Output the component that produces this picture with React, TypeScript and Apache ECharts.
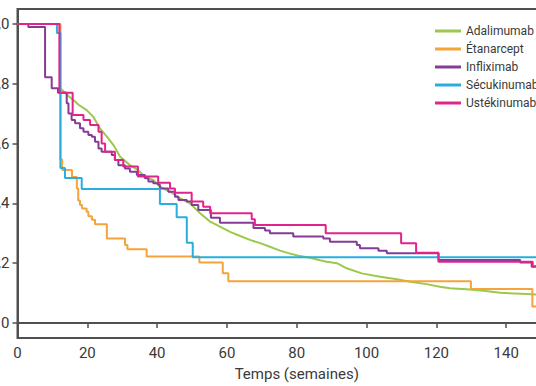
import React, { useEffect, useRef } from "react";
import * as echarts from "echarts";

const seriesNames = ["Adalimumab", "Étanarcept", "Infliximab", "Sécukinumab", "Ustékinumab"];
const seriesColors = ["#9cc94b", "#f5a33b", "#843c97", "#29aee0", "#e2238b"];

const yTickValues = [0, 0.2, 0.4, 0.6, 0.8, 1.0];
const yTickLabels = ["0", "0,2", "0,4", "0,6", "0,8", "1,0"];

// Adalimumab has many small events: drawn as a fine polyline through read points
const adalimumabT = [0, 12.2, 12.2, 13.5, 14.5, 16, 17.5, 19.8, 21.7, 23.6, 25.6, 27.5, 29.4, 32.2, 34.2, 36.5, 38.9, 40.8, 43.7, 46.6, 49.4, 52.3, 55.2, 58, 60.9, 63.8, 66.6, 69.5, 72.3, 75.2, 78.1, 80.5, 83.8, 86.7, 88.6, 91.5, 94.3, 98.6, 103.9, 108.7, 112.5, 117.2, 121, 123.9, 128.7, 133.5, 138.3, 145.9, 150];
const adalimumabS = [1, 1, 0.785, 0.772, 0.76, 0.746, 0.73, 0.712, 0.69, 0.651, 0.623, 0.595, 0.556, 0.528, 0.514, 0.49, 0.478, 0.456, 0.439, 0.417, 0.4, 0.367, 0.339, 0.322, 0.305, 0.291, 0.278, 0.267, 0.255, 0.242, 0.232, 0.225, 0.218, 0.21, 0.205, 0.2, 0.183, 0.166, 0.155, 0.146, 0.138, 0.13, 0.121, 0.116, 0.113, 0.108, 0.101, 0.097, 0.094];

const etanarceptT = [0, 12.3, 12.8, 15.6, 17.0, 17.4, 17.9, 18.5, 19.8, 20.3, 21.3, 22.2, 25.6, 30.8, 31.5, 37, 52.1, 58.8, 60.4, 129.9, 147.5, 150];
const etanarceptS = [1, 0.547, 0.512, 0.488, 0.45, 0.41, 0.395, 0.383, 0.372, 0.357, 0.345, 0.33, 0.283, 0.261, 0.247, 0.222, 0.202, 0.166, 0.14, 0.114, 0.055, 0.055];

const infliximabT = [0, 3.1, 7.9, 9.8, 11.6, 14.1, 14.6, 15.5, 16.5, 17.9, 18.9, 20.3, 21.3, 22.2, 23.2, 24.1, 27, 27.9, 28.9, 30.8, 32.2, 34.2, 36.5, 37.5, 38.9, 40.3, 40.8, 43.2, 45.1, 46.1, 48.5, 49.9, 51.8, 55.4, 58, 67.6, 70.9, 72.3, 79, 87.6, 89.5, 97.2, 98.1, 103.4, 105.8, 120.6, 144, 147.3, 150];
const infliximabS = [1, 0.99, 0.822, 0.785, 0.77, 0.735, 0.701, 0.679, 0.668, 0.651, 0.64, 0.629, 0.623, 0.606, 0.584, 0.573, 0.562, 0.545, 0.528, 0.517, 0.506, 0.495, 0.484, 0.473, 0.467, 0.462, 0.45, 0.439, 0.422, 0.411, 0.406, 0.395, 0.378, 0.352, 0.335, 0.318, 0.309, 0.3, 0.289, 0.283, 0.272, 0.261, 0.25, 0.242, 0.233, 0.211, 0.202, 0.188, 0.188];

const secukinumabT = [0, 11.3, 12.3, 13.6, 18.4, 40.8, 45.6, 48.5, 50.2, 150];
const secukinumabS = [1, 0.97, 0.518, 0.485, 0.448, 0.398, 0.354, 0.268, 0.22, 0.22];

const ustekinumabT = [0, 12.0, 15.8, 18.9, 20.8, 23.2, 24.1, 25.1, 27.9, 30.3, 34.5, 40.3, 43.7, 45.1, 49.9, 53.2, 55.2, 67.1, 68, 88.3, 109.9, 114.2, 120.6, 147.6, 150];
const ustekinumabS = [1, 0.77, 0.696, 0.679, 0.662, 0.64, 0.6, 0.573, 0.545, 0.523, 0.49, 0.469, 0.45, 0.436, 0.406, 0.389, 0.367, 0.347, 0.328, 0.3, 0.267, 0.235, 0.205, 0.19, 0.19];

const allT = [adalimumabT, etanarceptT, infliximabT, secukinumabT, ustekinumabT];
const allS = [adalimumabS, etanarceptS, infliximabS, secukinumabS, ustekinumabS];
const stepped = [false, true, true, true, true];

const FONT = "Roboto, 'DejaVu Sans', sans-serif";
const AXIS = "#505050";
const TEXT = "#3a3a3a";

export default function App() {
  const ref = useRef<HTMLDivElement>(null);
  useEffect(() => {
    if (!ref.current) return;
    const chart = echarts.init(ref.current, undefined, { renderer: "svg" });
    chart.setOption({
      animation: false,
      backgroundColor: "#ffffff",
      textStyle: { fontFamily: FONT },
      grid: {
        left: 17.5,
        right: -40,
        top: 9,
        bottom: 48,
        containLabel: false,
        outerBoundsMode: "none",
        show: true,
        borderColor: AXIS,
        borderWidth: 2,
      },
      legend: {
        orient: "vertical",
        left: 430,
        top: 20,
        itemWidth: 26,
        itemHeight: 3,
        itemGap: 6,
        icon: "rect",
        data: seriesNames,
        textStyle: { fontFamily: FONT, fontSize: 12, color: TEXT },
      },
      xAxis: {
        type: "value",
        min: 0,
        max: 160,
        interval: 20,
        name: "Temps (semaines)",
        nameLocation: "middle",
        nameGap: 28,
        nameTextStyle: { fontFamily: FONT, fontSize: 15, color: TEXT },
        axisLine: { show: true, lineStyle: { color: AXIS, width: 2 } },
        axisTick: { show: true, length: 5, lineStyle: { color: AXIS, width: 1.5 } },
        axisLabel: { fontFamily: FONT, fontSize: 15, color: TEXT, margin: 7 },
        splitLine: { show: false },
      },
      yAxis: {
        type: "value",
        min: -0.0502,
        max: 1.0502,
        axisLine: { show: true, lineStyle: { color: AXIS, width: 2 } },
        axisTick: { show: true, length: 5, customValues: yTickValues, lineStyle: { color: AXIS, width: 1.5 } },
        axisLabel: {
          fontFamily: FONT,
          fontSize: 15,
          color: TEXT,
          margin: 8,
          customValues: yTickValues,
          formatter: (v: number) => {
            const i = yTickValues.findIndex((x) => Math.abs(x - v) < 1e-6);
            return i >= 0 ? yTickLabels[i] : "";
          },
        },
        splitLine: { show: false },
      },
      series: seriesNames.map((name, k) => ({
        name,
        type: "line",
        step: stepped[k] ? "end" : false,
        symbol: "none",
        color: seriesColors[k],
        lineStyle: { width: 2, color: seriesColors[k] },
        data: allT[k].map((t, i) => [t, allS[k][i]]),
      })),
    });
    return () => chart.dispose();
  }, []);
  return <div ref={ref} style={{ width: 536, height: 386, position: "absolute", left: 0, top: 0 }} />;
}
